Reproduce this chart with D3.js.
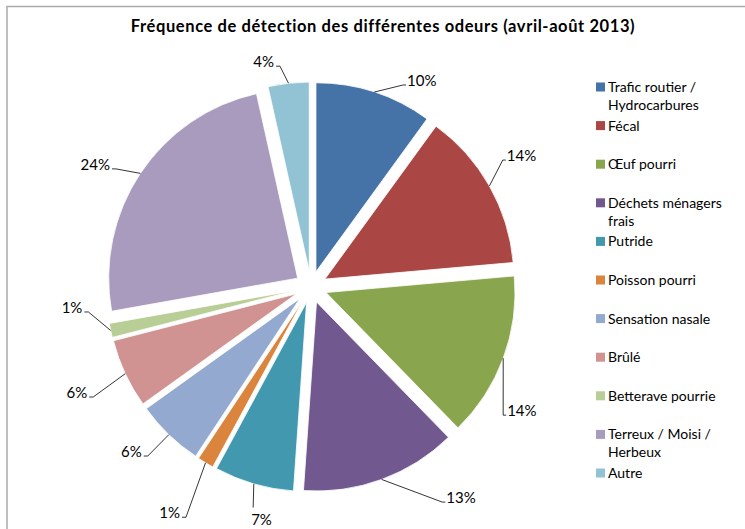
<!DOCTYPE html>
<html>
<head>
<meta charset="utf-8">
<script src="https://cdn.jsdelivr.net/npm/d3@7"></script>
<style>
  body { margin: 0; background: #fff; }
  svg { display: block; font-family: Lato, "Open Sans", sans-serif; }
  .pct { font-size: 15px; fill: #000; }
  .leg { font-size: 14px; fill: #000; }
</style>
</head>
<body>
<div id="chart"></div>
<script>
// odeurs et part des détections (%)
const categories = [
  ["Trafic routier /", "Hydrocarbures"],
  ["Fécal"],
  ["Œuf pourri"],
  ["Déchets ménagers", "frais"],
  ["Putride"],
  ["Poisson pourri"],
  ["Sensation nasale"],
  ["Brûlé"],
  ["Betterave pourrie"],
  ["Terreux / Moisi /", "Herbeux"],
  ["Autre"]
];
const values = [10.0, 13.6, 14.1, 13.4, 6.8, 1.4, 5.8, 5.9, 1.2, 24.3, 3.5];
const colors = ["#4572A7", "#AA4643", "#89A54E", "#71588F", "#4198AF", "#DB843D",
                "#93A9CF", "#D19392", "#B9CD96", "#A99BBD", "#92C3D4"];

// where each data label sits (angle in degrees from 12 o'clock, distance from centre)
const labelAt = [[24.5, 222], [56.5, 230], [123.7, 231], [148.6, 252], [194.7, 228],
                 [208.5, 262], [224, 235], [243.2, 244], [263.6, 224], [301.2, 228], [352, 223]];
const labelSide = ["r", "r", "r", "r", "b", "l", "l", "l", "l", "l", "l"];

const width = 745, height = 529;
const cx = 311, cy = 287, radius = 189, explode = 16;

const svg = d3.select("#chart").append("svg")
  .attr("width", width)
  .attr("height", height);

// chart frame
svg.append("rect")
  .attr("x", 7).attr("y", 6.5)
  .attr("width", width + 20).attr("height", height + 20)
  .attr("fill", "none")
  .attr("stroke", "#ababab")
  .attr("stroke-width", 1.5);

svg.append("text")
  .attr("x", 383).attr("y", 32)
  .attr("text-anchor", "middle")
  .attr("font-weight", "bold")
  .attr("font-size", "16.5px")
  .attr("letter-spacing", "0.6px")
  .text("Fréquence de détection des différentes odeurs (avril-août 2013)");

const total = d3.sum(values);
const pie = d3.pie().sort(null).value(d => d);
const arcs = pie(values);
const arc = d3.arc().innerRadius(0).outerRadius(radius);

const g = svg.append("g").attr("transform", `translate(${cx},${cy})`);

const mid = d => (d.startAngle + d.endAngle) / 2;

g.selectAll("path.slice")
  .data(arcs)
  .enter().append("path")
  .attr("class", "slice")
  .attr("d", arc)
  .attr("fill", (d, i) => colors[i])
  .attr("stroke", "#fff")
  .attr("stroke-width", 0.8)
  .attr("transform", d => {
    let a = mid(d);
    return `translate(${explode * Math.sin(a)},${-explode * Math.cos(a)})`;
  });

// data labels + leader lines
const polar = (deg, r) => {
  let a = deg * Math.PI / 180;
  return [r * Math.sin(a), -r * Math.cos(a)];
};

arcs.forEach((d, i) => {
  let a = mid(d);
  let start = [(radius + explode) * Math.sin(a), -(radius + explode) * Math.cos(a)];
  let elbow = polar(labelAt[i][0], labelAt[i][1]);
  let side = labelSide[i];
  let txt = Math.round(d.value / total * 100) + "%";
  let pts = [start, elbow];
  let tx, ty, anchor;
  if (side == "r") {
    pts.push([elbow[0] + 3, elbow[1]]);
    tx = elbow[0] + 4; ty = elbow[1] + 1; anchor = "start";
  } else if (side == "l") {
    pts.push([elbow[0] - 4, elbow[1]]);
    tx = elbow[0] - 6; ty = elbow[1] + 1; anchor = "end";
  } else {
    tx = elbow[0] - 2; ty = elbow[1] + 17; anchor = "start";
  }
  g.append("path")
    .attr("d", d3.line()(pts))
    .attr("fill", "none")
    .attr("stroke", "#000")
    .attr("stroke-width", 0.8);
  g.append("text")
    .attr("class", "pct")
    .attr("x", tx).attr("y", ty)
    .attr("text-anchor", anchor)
    .text(txt);
});

// legend
const legend = svg.append("g").attr("transform", "translate(596,0)");
const legY = d3.scaleLinear().domain([0, categories.length - 1]).range([87, 473]);

categories.forEach((lines, i) => {
  let y = legY(i);
  legend.append("rect")
    .attr("x", 0).attr("y", y - 4.5)
    .attr("width", 9).attr("height", 9)
    .attr("fill", colors[i]);
  lines.forEach((t, k) => {
    legend.append("text")
      .attr("class", "leg")
      .attr("x", 12)
      .attr("y", y + 5 + k * 18)
      .text(t);
  });
});
</script>
</body>
</html>
